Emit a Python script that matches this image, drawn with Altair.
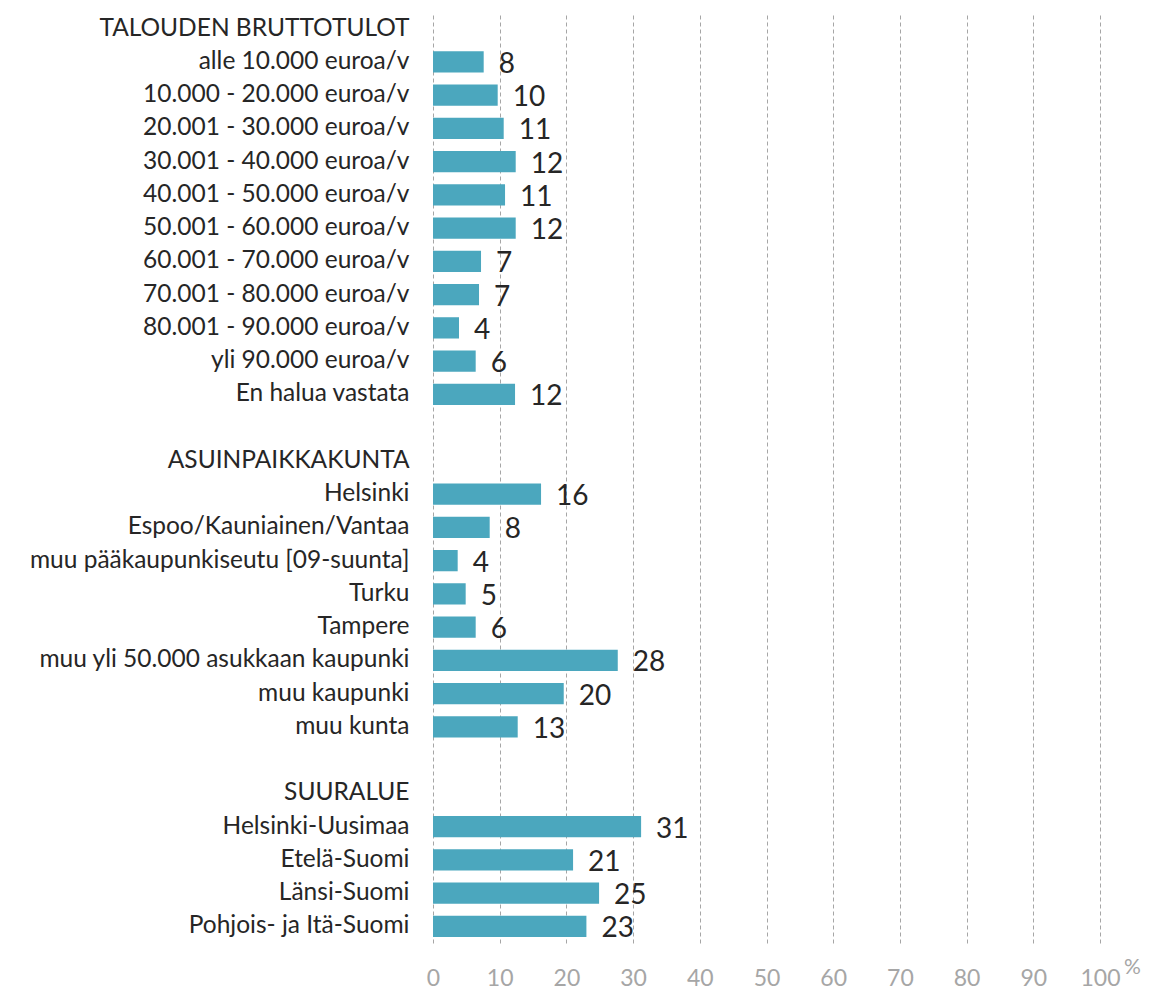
import altair as alt
import pandas as pd

categories = [
    "TALOUDEN BRUTTOTULOT",
    "alle 10.000 euroa/v",
    "10.000 - 20.000 euroa/v",
    "20.001 - 30.000 euroa/v",
    "30.001 - 40.000 euroa/v",
    "40.001 - 50.000 euroa/v",
    "50.001 - 60.000 euroa/v",
    "60.001 - 70.000 euroa/v",
    "70.001 - 80.000 euroa/v",
    "80.001 - 90.000 euroa/v",
    "yli 90.000 euroa/v",
    "En halua vastata",
    " ",
    "ASUINPAIKKAKUNTA",
    "Helsinki",
    "Espoo/Kauniainen/Vantaa",
    "muu pääkaupunkiseutu [09-suunta]",
    "Turku",
    "Tampere",
    "muu yli 50.000 asukkaan kaupunki",
    "muu kaupunki",
    "muu kunta",
    "  ",
    "SUURALUE",
    "Helsinki-Uusimaa",
    "Etelä-Suomi",
    "Länsi-Suomi",
    "Pohjois- ja Itä-Suomi",
]

values = [
    None, 7.6, 9.7, 10.6, 12.4, 10.8, 12.4, 7.2, 6.9, 3.9, 6.4, 12.3,
    None, None, 16.2, 8.5, 3.7, 4.9, 6.4, 27.7, 19.6, 12.7,
    None, None, 31.2, 21.0, 24.9, 23.0,
]

labels = [
    None, 8, 10, 11, 12, 11, 12, 7, 7, 4, 6, 12,
    None, None, 16, 8, 4, 5, 6, 28, 20, 13,
    None, None, 31, 21, 25, 23,
]

x_ticks = [0, 10, 20, 30, 40, 50, 60, 70, 80, 90, 100]

df = pd.DataFrame({"cat": categories, "value": values, "label": labels})

FONT = "Lato"
W = 667
H = 931

y_enc = alt.Y(
    "cat:N",
    sort=categories,
    title=None,
    scale=alt.Scale(paddingInner=0.36, paddingOuter=0.18),
    axis=alt.Axis(
        labelFont=FONT,
        labelFontSize=24.5,
        labelColor="#262626",
        labelPadding=24,
        ticks=False,
        domain=False,
        grid=False,
        labelLimit=600,
    ),
)

x_enc = alt.X(
    "value:Q",
    title=None,
    scale=alt.Scale(domain=[0, 100], nice=False),
    axis=alt.Axis(
        values=x_ticks,
        labelFont=FONT,
        labelFontSize=23,
        labelColor="#A6A6A6",
        labelPadding=42,
        labelBaseline="alphabetic",
        labelFlush=False,
        ticks=False,
        domain=False,
        grid=True,
        gridColor="#A6A6A6",
        gridDash=[4, 3],
        gridWidth=1,
    ),
)

bars = alt.Chart(df).mark_bar(color="#4BA7BE").encode(
    x=x_enc,
    y=y_enc,
)

text = (
    alt.Chart(df)
    .transform_filter("datum.label != null")
    .mark_text(
        align="left",
        baseline="middle",
        dx=15,
        dy=3,
        font=FONT,
        fontSize=28,
        color="#262626",
    )
    .encode(
        x=alt.X("value:Q"),
        y=alt.Y("cat:N", sort=categories),
        text=alt.Text("label:Q"),
    )
)

pct = (
    alt.Chart(pd.DataFrame({"t": ["%"]}))
    .mark_text(
        align="left",
        baseline="middle",
        dx=24,
        font=FONT,
        fontSize=21,
        color="#A6A6A6",
    )
    .encode(
        x=alt.datum(100),
        y=alt.value(H + 25),
        text="t:N",
    )
)

chart = (
    alt.layer(bars, text, pct)
    .properties(
        width=W,
        height=H,
        autosize=alt.AutoSizeParams(type="none"),
        padding={"left": 425, "top": 4, "right": 50, "bottom": 47},
        background="white",
    )
    .configure_view(stroke=None)
)

chart.save("out.html", embed_options={"renderer": "svg", "actions": False})
